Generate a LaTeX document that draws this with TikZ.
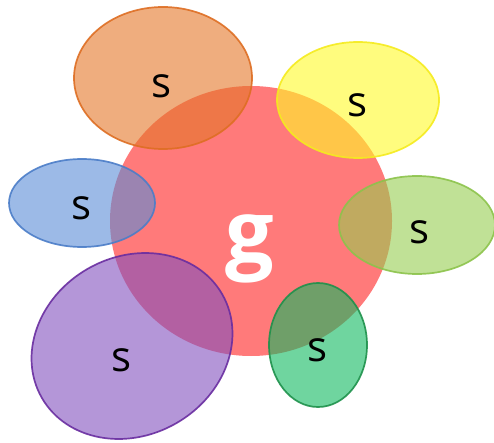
\documentclass[tikz,border=0pt]{standalone}
\usepackage{fontspec}
\setmainfont{Open Sans}
\usepackage{tikz}
\usetikzlibrary{shapes.geometric}
\definecolor{Gfill}{RGB}{255, 70, 70}
\definecolor{Ofill}{RGB}{228, 118, 40}
\definecolor{Odraw}{RGB}{222, 110, 35}
\definecolor{Yfill}{RGB}{255, 250, 40}
\definecolor{Ydraw}{RGB}{245, 235, 30}
\definecolor{Bfill}{RGB}{90, 140, 215}
\definecolor{Bdraw}{RGB}{75, 125, 200}
\definecolor{Lfill}{RGB}{150, 205, 80}
\definecolor{Ldraw}{RGB}{140, 195, 75}
\definecolor{Pfill}{RGB}{130, 80, 190}
\definecolor{Pdraw}{RGB}{105, 45, 160}
\definecolor{Dfill}{RGB}{15, 185, 95}
\definecolor{Ddraw}{RGB}{30, 145, 75}
\tikzset{
    gset/.style={fill=Gfill, fill opacity=0.72, draw=none},
    sset/.style={line width=1.7pt, fill opacity=0.6, draw opacity=0.9},
    slabel/.style={font=\fontsize{42}{48}\selectfont, text=black, inner sep=0pt},
    glabel/.style={font=\fontsize{86}{100}\selectfont\bfseries, text=white, inner sep=0pt},
}

\begin{document}
\begin{tikzpicture}[x=1pt, y=-1pt]

    \useasboundingbox (0,0) rectangle (494,443);

    % the big set
    \path [gset] (251,221) ellipse [x radius=141, y radius=135];

    % the small sets
    \path [sset, fill=Ofill, draw=Odraw] (163,78) ellipse [x radius=89, y radius=71];
    \path [sset, fill=Yfill, draw=Ydraw] (358,100) ellipse [x radius=81, y radius=58];
    \path [sset, fill=Bfill, draw=Bdraw] (82,203) ellipse [x radius=73, y radius=44];
    \path [sset, fill=Lfill, draw=Ldraw] (417,225) ellipse [x radius=78, y radius=49];
    \path [sset, fill=Pfill, draw=Pdraw] (132,346) ellipse [x radius=104, y radius=89, rotate=30];
    \path [sset, fill=Dfill, draw=Ddraw] (318,345) ellipse [x radius=49, y radius=62];

    % labels
    \node [glabel] (g) at (250,249) {g};
    \node [slabel] (s1) at (162,86) {s};
    \node [slabel] (s2) at (358,105) {s};
    \node [slabel] (s3) at (82,208) {s};
    \node [slabel] (s4) at (420,232) {s};
    \node [slabel] (s5) at (122,360) {s};
    \node [slabel] (s6) at (318,350) {s};

\end{tikzpicture}
\end{document}
